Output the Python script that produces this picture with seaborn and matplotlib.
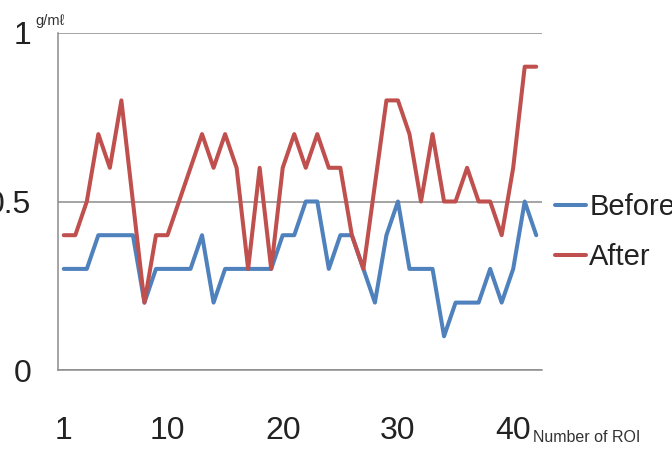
import matplotlib
matplotlib.use("Agg")
import matplotlib.pyplot as plt
import pandas as pd
import seaborn as sns

# values (g/ml per ROI)
roi = list(range(1, 43))
before = [0.3, 0.3, 0.3, 0.4, 0.4, 0.4, 0.4, 0.2, 0.3, 0.3,
          0.3, 0.3, 0.4, 0.2, 0.3, 0.3, 0.3, 0.3, 0.3, 0.4,
          0.4, 0.5, 0.5, 0.3, 0.4, 0.4, 0.3, 0.2, 0.4, 0.5,
          0.3, 0.3, 0.3, 0.1, 0.2, 0.2, 0.2, 0.3, 0.2, 0.3,
          0.5, 0.4]
after = [0.4, 0.4, 0.5, 0.7, 0.6, 0.8, 0.5, 0.2, 0.4, 0.4,
         0.5, 0.6, 0.7, 0.6, 0.7, 0.6, 0.3, 0.6, 0.3, 0.6,
         0.7, 0.6, 0.7, 0.6, 0.6, 0.4, 0.3, 0.55, 0.8, 0.8,
         0.7, 0.5, 0.7, 0.5, 0.5, 0.6, 0.5, 0.5, 0.4, 0.6,
         0.9, 0.9]
series = ["Before", "After"]
colors = ["#4F81BD", "#C0504D"]
x_ticks = [1, 10, 20, 30, 40]
y_ticks = [0, 0.5, 1]
y_tick_labels = ["0", "0.5", "1"]

df = pd.DataFrame({
    "roi": roi * 2,
    "value": before + after,
    "series": ["Before"] * len(roi) + ["After"] * len(roi),
})

sns.set_style("white")
plt.rcParams["font.family"] = ["Liberation Sans", "DejaVu Sans"]

grid_col = "#8c8c8c"
lw = 2.9

fig = plt.figure(figsize=(6.72, 4.49), dpi=100)
ax = fig.add_axes([58 / 672, 1 - 370 / 449, 484 / 672, 337 / 449])

sns.lineplot(data=df, x="roi", y="value", hue="series", hue_order=series,
             palette=dict(zip(series, colors)), linewidth=lw, ax=ax, zorder=3)

ax.set_xlim(0.5, 42.5)
ax.set_ylim(0, 1)
ax.set_xlabel("")
ax.set_ylabel("")

ax.set_xticks(x_ticks)
ax.set_xticks([0.5, 10.5, 20.5, 30.5, 40.5], minor=True)
ax.tick_params(axis="x", which="major", length=0, pad=33, labelsize=23, labelcolor="#222222")
ax.tick_params(axis="x", which="minor", length=8.6, width=1.1, color=grid_col, direction="out")
ax.set_yticks(y_ticks)
ax.set_yticklabels(y_tick_labels)
ax.tick_params(axis="y", length=7.2, width=1.1, color=grid_col, pad=12, labelsize=23,
               labelcolor="#222222", direction="out")

ax.yaxis.grid(True, color=grid_col, linewidth=1.1)
ax.set_axisbelow(True)
for side in ["top", "right"]:
    ax.spines[side].set_visible(False)
for side in ["left", "bottom"]:
    ax.spines[side].set_color(grid_col)
    ax.spines[side].set_linewidth(1.1)

leg = ax.get_legend()
handles = leg.legend_handles
labels = [t.get_text() for t in leg.get_texts()]
leg.remove()
for h in handles:
    h.set_linewidth(lw)
fig.legend(handles, labels, loc="center left", bbox_to_anchor=(555 / 672, 1 - 232 / 449),
           frameon=False, fontsize=21, handlelength=1.05, handletextpad=0.12,
           labelspacing=0.75, borderpad=0, borderaxespad=0, labelcolor="#222222")

fig.text(35 / 672, 1 - 25 / 449, "g/m\u2113", fontsize=10.5, color="#333333")
fig.text(533 / 672, 1 - 442 / 449, "Number of ROI", fontsize=11.5, color="#333333", va="baseline")

fig.savefig("out.png", dpi=100)
